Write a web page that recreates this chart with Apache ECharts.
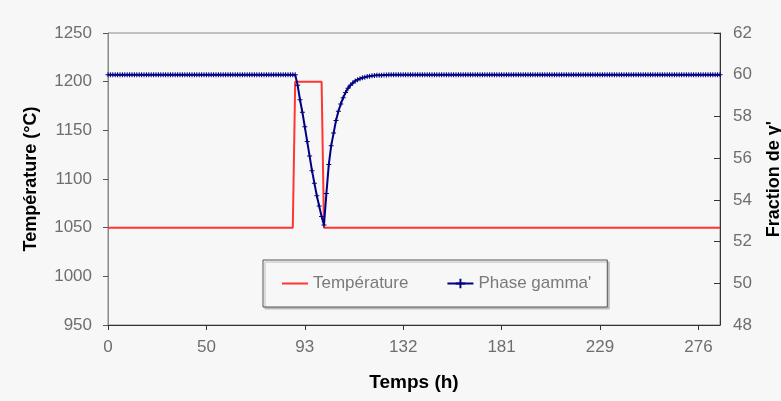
<!DOCTYPE html>
<html>
<head>
<meta charset="utf-8">
<script src="https://cdn.jsdelivr.net/npm/echarts@6/dist/echarts.min.js"></script>
<style>
html,body{margin:0;padding:0;background:#f7f7f7;}
#c{width:781px;height:401px;}
</style>
</head>
<body>
<div id="c"></div>
<script>
// x tick labels (time in hours), shown every 41 calculation steps
const tickLabels = ['0', '50', '93', '132', '181', '229', '276'];
const labelEvery = 41;

// Temperature (°C), one value per calculation step (256 steps)
const temperature = [
1050,1050,1050,1050,1050,1050,1050,1050,1050,1050,
1050,1050,1050,1050,1050,1050,1050,1050,1050,1050,
1050,1050,1050,1050,1050,1050,1050,1050,1050,1050,
1050,1050,1050,1050,1050,1050,1050,1050,1050,1050,
1050,1050,1050,1050,1050,1050,1050,1050,1050,1050,
1050,1050,1050,1050,1050,1050,1050,1050,1050,1050,
1050,1050,1050,1050,1050,1050,1050,1050,1050,1050,
1050,1050,1050,1050,1050,1050,1050,1050,1200,1200,
1200,1200,1200,1200,1200,1200,1200,1200,1200,1200,
1050,1050,1050,1050,1050,1050,1050,1050,1050,1050,
1050,1050,1050,1050,1050,1050,1050,1050,1050,1050,
1050,1050,1050,1050,1050,1050,1050,1050,1050,1050,
1050,1050,1050,1050,1050,1050,1050,1050,1050,1050,
1050,1050,1050,1050,1050,1050,1050,1050,1050,1050,
1050,1050,1050,1050,1050,1050,1050,1050,1050,1050,
1050,1050,1050,1050,1050,1050,1050,1050,1050,1050,
1050,1050,1050,1050,1050,1050,1050,1050,1050,1050,
1050,1050,1050,1050,1050,1050,1050,1050,1050,1050,
1050,1050,1050,1050,1050,1050,1050,1050,1050,1050,
1050,1050,1050,1050,1050,1050,1050,1050,1050,1050,
1050,1050,1050,1050,1050,1050,1050,1050,1050,1050,
1050,1050,1050,1050,1050,1050,1050,1050,1050,1050,
1050,1050,1050,1050,1050,1050,1050,1050,1050,1050,
1050,1050,1050,1050,1050,1050,1050,1050,1050,1050,
1050,1050,1050,1050,1050,1050,1050,1050,1050,1050,
1050,1050,1050,1050,1050,1050
];

// Fraction of gamma' phase (%), one value per calculation step (256 steps)
const gammaPhase = [
60,60,60,60,60,60,60,60,60,60,
60,60,60,60,60,60,60,60,60,60,
60,60,60,60,60,60,60,60,60,60,
60,60,60,60,60,60,60,60,60,60,
60,60,60,60,60,60,60,60,60,60,
60,60,60,60,60,60,60,60,60,60,
60,60,60,60,60,60,60,60,60,60,
60,60,60,60,60,60,60,60,60,59.5,
58.8,58.2,57.5,56.8,56.1,55.4,54.8,54.2,53.7,53.2,
52.8,54.3,55.7,56.6,57.2,57.8,58.25,58.6,58.9,59.15,
59.35,59.5,59.6,59.7,59.76,59.81,59.85,59.88,59.91,59.93,
59.95,59.96,59.97,59.98,59.98,59.99,59.99,60,60,60,
60,60,60,60,60,60,60,60,60,60,
60,60,60,60,60,60,60,60,60,60,
60,60,60,60,60,60,60,60,60,60,
60,60,60,60,60,60,60,60,60,60,
60,60,60,60,60,60,60,60,60,60,
60,60,60,60,60,60,60,60,60,60,
60,60,60,60,60,60,60,60,60,60,
60,60,60,60,60,60,60,60,60,60,
60,60,60,60,60,60,60,60,60,60,
60,60,60,60,60,60,60,60,60,60,
60,60,60,60,60,60,60,60,60,60,
60,60,60,60,60,60,60,60,60,60,
60,60,60,60,60,60,60,60,60,60,
60,60,60,60,60,60
];

const steps = gammaPhase.map((_, i) => String(i));
const FONT = '"Liberation Sans", Arial, sans-serif';
const plusPath = 'path://M2,0h1v2h2v1h-2v2h-1v-2h-2v-1h2z';
const redLegendIcon = 'path://M0,0h26v2h-26z';

const chart = echarts.init(document.getElementById('c'), null, {renderer: 'canvas'});
chart.setOption({
  backgroundColor: '#f7f7f7',
  animation: false,
  textStyle: {fontFamily: FONT},
  grid: {
    left: 108, right: 61, top: 33, bottom: 76,
    outerBoundsMode: 'none',
    containLabel: false,
    show: true, borderColor: '#8a8a8a', borderWidth: 1, backgroundColor: 'transparent'
  },
  legend: {
    left: 263, top: 260,
    padding: [15, 16, 15, 19],
    itemGap: 38, itemWidth: 26, itemHeight: 12,
    backgroundColor: '#f7f7f7',
    borderColor: '#555', borderWidth: 1,
    shadowColor: '#bdbdbd', shadowBlur: 0, shadowOffsetX: 2, shadowOffsetY: 2,
    textStyle: {fontFamily: FONT, fontSize: 17, color: '#7a7a7a'},
    data: [
      {name: 'Température', icon: redLegendIcon, itemStyle: {color: '#ff3535'}},
      {name: "Phase gamma'"}
    ]
  },
  xAxis: {
    type: 'category',
    boundaryGap: false,
    data: steps,
    name: 'Temps (h)',
    nameLocation: 'middle',
    nameGap: 48,
    nameTextStyle: {fontFamily: FONT, fontSize: 19, fontWeight: 'bold', color: '#000'},
    axisLine: {show: true, lineStyle: {color: '#333', width: 1}},
    axisTick: {show: true, interval: labelEvery - 1, length: 5, lineStyle: {color: '#333'}},
    axisLabel: {
      interval: labelEvery - 1,
      margin: 14,
      fontFamily: FONT, fontSize: 17, color: '#6e6e6e',
      formatter: (v, idx) => (idx % labelEvery === 0 ? (tickLabels[idx / labelEvery] || '') : '')
    },
    splitLine: {show: false}
  },
  yAxis: [
    {
      type: 'value', position: 'left',
      min: 950, max: 1250, interval: 50,
      name: 'Température (°C)',
      nameLocation: 'middle', nameRotate: 90, nameGap: 68,
      nameTextStyle: {fontFamily: FONT, fontSize: 18, fontWeight: 'bold', color: '#000'},
      axisLine: {show: true, lineStyle: {color: '#8a8a8a', width: 1}},
      axisTick: {show: true, length: 5, lineStyle: {color: '#555'}},
      axisLabel: {margin: 16, fontFamily: FONT, fontSize: 17, color: '#6e6e6e', formatter: v => String(v)},
      splitLine: {show: false}
    },
    {
      type: 'value', position: 'right',
      min: 48, max: 62, interval: 2,
      name: "Fraction de γ'",
      nameLocation: 'middle', nameRotate: 90, nameGap: 45,
      nameTextStyle: {fontFamily: FONT, fontSize: 18, fontWeight: 'bold', color: '#000'},
      axisLine: {show: true, lineStyle: {color: '#333', width: 1}},
      axisTick: {show: true, inside: true, length: 6, lineStyle: {color: '#333'}},
      axisLabel: {margin: 13, fontFamily: FONT, fontSize: 17, color: '#6e6e6e', formatter: v => String(v)},
      splitLine: {show: false}
    }
  ],
  series: [
    {
      name: 'Température',
      type: 'line',
      yAxisIndex: 0,
      data: temperature,
      symbol: 'none',
      color: '#ff3535',
      lineStyle: {color: '#ff3535', width: 2},
      z: 2
    },
    {
      name: "Phase gamma'",
      type: 'line',
      yAxisIndex: 1,
      data: gammaPhase,
      symbol: plusPath,
      symbolSize: 5,
      showAllSymbol: true,
      color: '#000080',
      itemStyle: {color: '#000080'},
      lineStyle: {color: '#000080', width: 2},
      z: 3
    }
  ]
});
</script>
</body>
</html>
